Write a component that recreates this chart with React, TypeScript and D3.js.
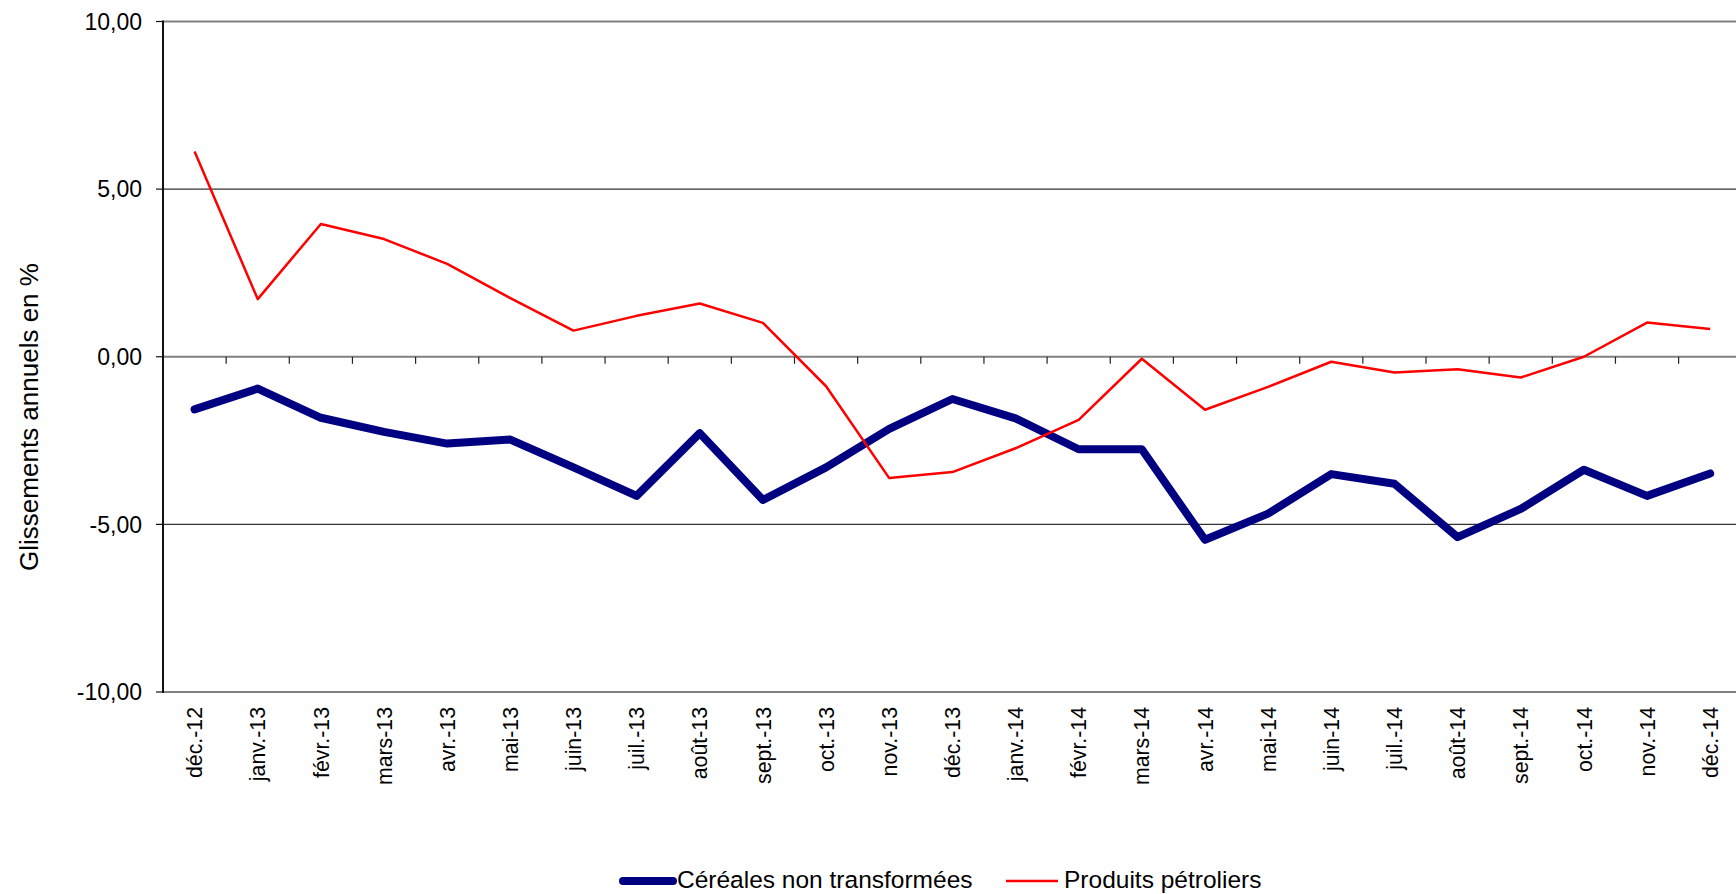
import React from "react";
import * as d3 from "d3";

const months: string[] = [
  "déc.-12", "janv.-13", "févr.-13", "mars-13", "avr.-13", "mai-13", "juin-13",
  "juil.-13", "août-13", "sept.-13", "oct.-13", "nov.-13", "déc.-13", "janv.-14",
  "févr.-14", "mars-14", "avr.-14", "mai-14", "juin-14", "juil.-14", "août-14",
  "sept.-14", "oct.-14", "nov.-14", "déc.-14",
];

const cereales: number[] = [
  -1.57, -0.95, -1.82, -2.24, -2.59, -2.47, -3.3, -4.15, -2.28, -4.27, -3.3, -2.15,
  -1.26, -1.84, -2.76, -2.76, -5.46, -4.68, -3.5, -3.79, -5.38, -4.54, -3.37, -4.15, -3.48,
];

const petroliers: number[] = [
  6.12, 1.72, 3.96, 3.51, 2.77, 1.75, 0.78, 1.22, 1.59, 1.01, -0.88, -3.62, -3.44,
  -2.73, -1.88, -0.06, -1.58, -0.9, -0.15, -0.47, -0.37, -0.62, 0.0, 1.02, 0.83,
];

const yTicks: number[] = [10, 5, 0, -5, -10];

const seriesNames: string[] = ["Céréales non transformées", "Produits pétroliers"];

const W = 1736;
const H = 894;
const left = 163;
const right = 163 + 25 * 63.15;
const top = 21.5;
const bottom = 692;
const FONT = "Liberation Sans, Arial, sans-serif";

export default function App() {
  const x = d3.scaleBand<string>().domain(months).range([left, right]).padding(0);
  const y = d3.scaleLinear().domain([-10, 10]).range([bottom, top]);
  const cx = (m: string) => (x(m) as number) + x.bandwidth() / 2;

  const line = d3
    .line<number>()
    .x((_, i) => cx(months[i]))
    .y((v) => y(v));

  const fmt = (v: number) => d3.format(".2f")(v).replace(".", ",").replace("−", "-");

  const boundaries = d3.range(1, months.length).map((i) => left + i * x.bandwidth());

  return (
    <svg
      width={W}
      height={H}
      style={{ position: "absolute", left: 0, top: 0, background: "#fff" }}
      fontFamily={FONT}
    >
      <rect x={0} y={0} width={W} height={H} fill="#fff" />

      {/* horizontal gridlines */}
      {yTicks.map((t) => {
        const edge = t === 10 || t === 0 || t === -10;
        return (
          <line
            key={"g" + t}
            x1={left}
            x2={right}
            y1={y(t)}
            y2={y(t)}
            stroke={edge ? "#808080" : "#333"}
            strokeWidth={edge ? 2 : 1.2}
          />
        );
      })}

      {/* category ticks on the zero line */}
      {boundaries.map((bx, i) => (
        <line key={"xt" + i} x1={bx} x2={bx} y1={y(0)} y2={y(0) + 7} stroke="#222" strokeWidth={1.2} />
      ))}

      {/* value axis */}
      <line x1={left} x2={left} y1={top - 1} y2={bottom + 1} stroke="#111" strokeWidth={2} />
      {yTicks.map((t) => (
        <g key={"yt" + t}>
          <line x1={left - 7} x2={left} y1={y(t)} y2={y(t)} stroke="#111" strokeWidth={1.2} />
          <text x={142} y={y(t)} dy="0.36em" textAnchor="end" fontSize={23} fill="#000">
            {fmt(t)}
          </text>
        </g>
      ))}

      {/* month labels */}
      {months.map((m) => (
        <text
          key={"xl" + m}
          transform={`translate(${cx(m)},707) rotate(-90)`}
          dy="0.36em"
          textAnchor="end"
          fontSize={21.3}
          fill="#000"
        >
          {m}
        </text>
      ))}

      <text
        transform={`translate(38,417) rotate(-90)`}
        textAnchor="middle"
        fontSize={26}
        fill="#000"
      >
        Glissements annuels en %
      </text>

      {/* series */}
      <path d={line(cereales) || ""} fill="none" stroke="#000080" strokeWidth={8} strokeLinejoin="round" strokeLinecap="round" />
      <path d={line(petroliers) || ""} fill="none" stroke="#ff0000" strokeWidth={2.5} strokeLinejoin="round" />

      {/* legend */}
      <line x1={623} x2={673} y1={881} y2={881} stroke="#000080" strokeWidth={8} strokeLinecap="round" />
      <text x={677} y={888} fontSize={24.5} fill="#000">{seriesNames[0]}</text>
      <line x1={1006} x2={1058} y1={881} y2={881} stroke="#ff0000" strokeWidth={2.5} />
      <text x={1064} y={888} fontSize={24.5} fill="#000">{seriesNames[1]}</text>
    </svg>
  );
}
